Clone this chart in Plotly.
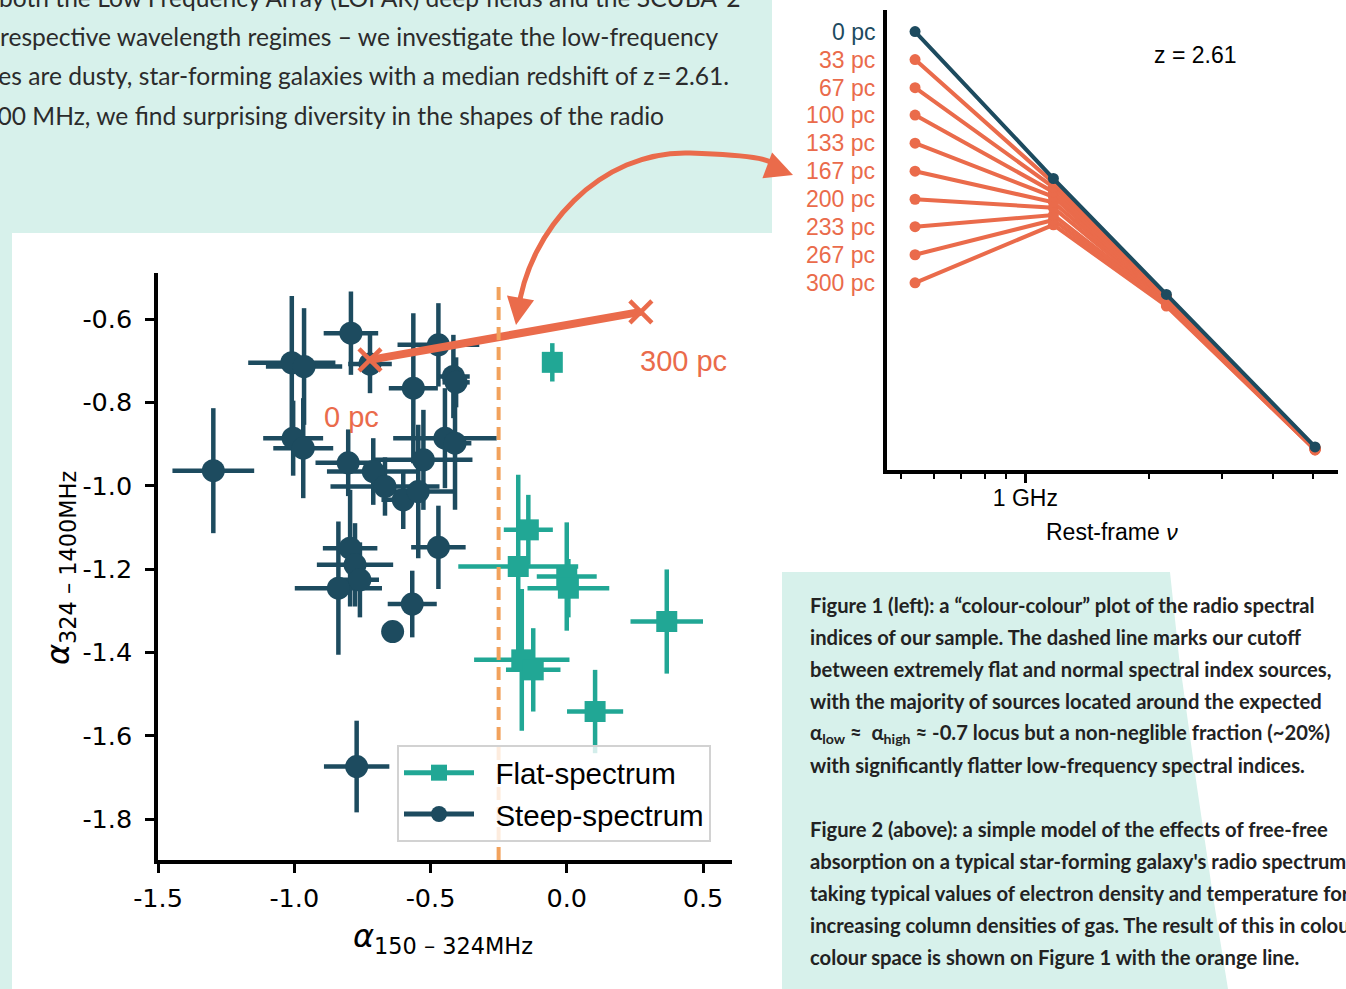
import plotly.graph_objects as go

W, H = 1346, 989

def px(x):
    return x / W

def py(y):
    return 1 - y / H

NAVY = "#1d4b5f"
TEAL = "#21a795"
ORANGE = "#ea6b4b"
DASH = "#f2a25c"
BG_TEAL = "#d7f1eb"
TEXT = "#2b2b2b"

# ---------------- Figure 1 data (colour-colour plot) ----------------
steep_x = [-1.297, -1.009, -0.964, -0.792, -0.722, -0.471, -0.563, -0.416, -0.406,
           -1.004, -0.967, -0.802, -0.710, -0.667, -0.600, -0.545, -0.526, -0.447,
           -0.410, -0.795, -0.777, -0.838, -0.759, -0.471, -0.567, -0.639, -0.771]
steep_y = [-0.964, -0.705, -0.714, -0.634, -0.708, -0.662, -0.766, -0.738, -0.752,
           -0.886, -0.910, -0.945, -0.966, -1.002, -1.034, -1.014, -0.938, -0.886,
           -0.898, -1.150, -1.190, -1.246, -1.226, -1.148, -1.284, -1.350, -1.674]
steep_xerr = [0.15, 0.16, 0.14, 0.10, 0.08, 0.15, 0.09, 0.06, 0.05,
              0.11, 0.11, 0.12, 0.17, 0.20, 0.08, 0.14, 0.18, 0.19,
              0.06, 0.10, 0.14, 0.16, 0.07, 0.10, 0.09, 0.0, 0.12]
steep_yerr = [0.15, 0.16, 0.14, 0.10, 0.07, 0.10, 0.18, 0.10, 0.06,
              0.09, 0.12, 0.08, 0.08, 0.07, 0.07, 0.16, 0.12, 0.12,
              0.16, 0.14, 0.10, 0.16, 0.09, 0.10, 0.08, 0.0, 0.11]

flat_x = [-0.053, -0.141, -0.178, 0.000, 0.006, -0.165, -0.123, 0.367, 0.104]
flat_y = [-0.704, -1.106, -1.194, -1.218, -1.246, -1.418, -1.442, -1.326, -1.542]
flat_xerr = [0.03, 0.09, 0.22, 0.11, 0.15, 0.175, 0.10, 0.133, 0.103]
flat_yerr = [0.046, 0.084, 0.22, 0.13, 0.07, 0.17, 0.10, 0.125, 0.10]

# free-free absorption track (0 pc -> 300 pc)
track_alpha_low = [-0.722, 0.272]
track_alpha_high = [-0.698, -0.583]
track_labels = ["0 pc", "300 pc"]
track_label_x = [-0.79, 0.43]
track_label_y = [-0.835, -0.700]

cutoff_alpha = -0.25

x1_ticks = [-1.5, -1.0, -0.5, 0.0, 0.5]
x1_ticktext = ["-1.5", "-1.0", "-0.5", "0.0", "0.5"]
y1_ticks = [-0.6, -0.8, -1.0, -1.2, -1.4, -1.6, -1.8]
y1_ticktext = ["-0.6", "-0.8", "-1.0", "-1.2", "-1.4", "-1.6", "-1.8"]

# ---------------- Figure 2 data (spectral model) ----------------
freq_ghz = [0.54, 1.17, 2.20, 5.05]
column_labels = ["0 pc", "33 pc", "67 pc", "100 pc", "133 pc", "167 pc",
                 "200 pc", "233 pc", "267 pc", "300 pc"]
logS_0pc = [0.000, -0.241, -0.431, -0.681]
logS_33pc = [-0.046, -0.248, -0.434, -0.682]
logS_67pc = [-0.092, -0.255, -0.435, -0.683]
logS_100pc = [-0.137, -0.263, -0.437, -0.683]
logS_133pc = [-0.183, -0.271, -0.439, -0.684]
logS_167pc = [-0.229, -0.280, -0.440, -0.684]
logS_200pc = [-0.275, -0.289, -0.443, -0.685]
logS_233pc = [-0.320, -0.301, -0.445, -0.685]
logS_267pc = [-0.366, -0.309, -0.448, -0.686]
logS_300pc = [-0.412, -0.317, -0.450, -0.686]
model_curves = [logS_0pc, logS_33pc, logS_67pc, logS_100pc, logS_133pc,
                logS_167pc, logS_200pc, logS_233pc, logS_267pc, logS_300pc]
minor_freq = [0.5, 0.6, 0.7, 0.8, 0.9, 2, 3, 4, 5]

# ---------------- text ----------------
intro_lines = [
    "both the Low Frequency Array (LOFAR) deep fields and the SCUBA-2",
    "respective wavelength regimes \u2013 we investigate the low-frequency",
    "sources are dusty, star-forming galaxies with a median redshift of z\u2009=\u20092.61.",
    "and 1400 MHz, we find surprising diversity in the shapes of the radio",
]
intro_right = [742, 720, 731, 666]
intro_y = [-3, 36, 76, 116]

caption_lines = [
    "Figure 1 (left): a \u201ccolour-colour\u201d plot of the radio spectral",
    "indices of our sample. The dashed line marks our cutoff",
    "between extremely flat and normal spectral index sources,",
    "with the majority of sources located around the expected",
    "\u03b1<sub>low</sub> \u2248  \u03b1<sub>high</sub> \u2248 -0.7 locus but a non-neglible fraction (~20%)",
    "with significantly flatter low-frequency spectral indices.",
    "Figure 2 (above): a simple model of the effects of free-free",
    "absorption on a typical star-forming galaxy's radio spectrum",
    "taking typical values of electron density and temperature for",
    "increasing column densities of gas. The result of this in colour-",
    "colour space is shown on Figure 1 with the orange line.",
]
caption_y = [605, 637, 669, 701, 733, 765, 829, 861, 893, 925, 957]

fig = go.Figure()

# Figure 1 traces
fig.add_trace(go.Scatter(
    x=flat_x, y=flat_y, mode="markers", showlegend=False,
    marker=dict(symbol="square", size=21, color=TEAL),
    error_x=dict(type="data", array=flat_xerr, color=TEAL, thickness=4.5, width=0),
    error_y=dict(type="data", array=flat_yerr, color=TEAL, thickness=4.5, width=0),
    xaxis="x", yaxis="y"))
fig.add_trace(go.Scatter(
    x=steep_x, y=steep_y, mode="markers", showlegend=False,
    marker=dict(symbol="circle", size=23, color=NAVY),
    error_x=dict(type="data", array=steep_xerr, color=NAVY, thickness=4.5, width=0),
    error_y=dict(type="data", array=steep_yerr, color=NAVY, thickness=4.5, width=0),
    xaxis="x", yaxis="y"))
fig.add_trace(go.Scatter(
    x=track_alpha_low, y=track_alpha_high, mode="lines+markers", showlegend=False,
    line=dict(color=ORANGE, width=8),
    marker=dict(symbol="x-thin", size=22, color=ORANGE, line=dict(color=ORANGE, width=4.5)),
    xaxis="x", yaxis="y"))
# legend entries
fig.add_trace(go.Scatter(
    x=[None], y=[None], mode="lines+markers", name="\u00a0\u00a0Flat-spectrum",
    line=dict(color=TEAL, width=5), marker=dict(symbol="square", size=18, color=TEAL),
    xaxis="x", yaxis="y"))
fig.add_trace(go.Scatter(
    x=[None], y=[None], mode="lines+markers", name="\u00a0\u00a0Steep-spectrum",
    line=dict(color=NAVY, width=5), marker=dict(symbol="circle", size=20, color=NAVY),
    xaxis="x", yaxis="y"))

# Figure 2 traces (orange curves first, 0 pc on top)
for lab, curve in list(zip(column_labels, model_curves))[1:][::-1]:
    fig.add_trace(go.Scatter(
        x=freq_ghz, y=curve, mode="lines+markers", showlegend=False,
        line=dict(color=ORANGE, width=4), marker=dict(size=11, color=ORANGE),
        xaxis="x2", yaxis="y2"))
fig.add_trace(go.Scatter(
    x=freq_ghz, y=logS_0pc, mode="lines+markers", showlegend=False,
    line=dict(color=NAVY, width=4), marker=dict(size=11, color=NAVY),
    xaxis="x2", yaxis="y2"))

shapes = []
# teal poster background regions
shapes.append(dict(type="rect", xref="paper", yref="paper", x0=px(0), x1=px(772),
                   y0=py(233), y1=py(0), fillcolor=BG_TEAL, line=dict(width=0), layer="below"))
shapes.append(dict(type="rect", xref="paper", yref="paper", x0=px(0), x1=px(12),
                   y0=py(989), y1=py(233), fillcolor=BG_TEAL, line=dict(width=0), layer="below"))
poly = [(782, 572), (1170, 572), (1179, 657), (1197, 787), (1213, 896), (1228, 989), (782, 989)]
path = "M " + " L ".join(f"{px(a):.5f},{py(b):.5f}" for a, b in poly) + " Z"
shapes.append(dict(type="path", xref="paper", yref="paper", path=path,
                   fillcolor=BG_TEAL, line=dict(width=0), layer="below"))
# dashed cutoff line
shapes.append(dict(type="line", xref="x", yref="y domain", x0=cutoff_alpha, x1=cutoff_alpha,
                   y0=0, y1=0.98, line=dict(color=DASH, width=4, dash="13px,7px"), layer="above"))
# curved arrow linking the figures
arrow_path = (f"M {px(518):.5f},{py(312):.5f} "
              f"C {px(528):.5f},{py(230):.5f} {px(600):.5f},{py(150):.5f} {px(690):.5f},{py(153):.5f} "
              f"S {px(770):.5f},{py(163):.5f} {px(784):.5f},{py(170):.5f}")
shapes.append(dict(type="path", xref="paper", yref="paper", path=arrow_path,
                   line=dict(color=ORANGE, width=5), layer="above"))

annotations = []
for t, xr, yy in zip(intro_lines, intro_right, intro_y):
    annotations.append(dict(text=t, xref="paper", yref="paper", x=px(xr), y=py(yy),
                            xanchor="right", yanchor="middle", showarrow=False,
                            font=dict(family="Lato, sans-serif", size=24.6, color=TEXT)))
for t, yy in zip(caption_lines, caption_y):
    annotations.append(dict(text=t, xref="paper", yref="paper", x=px(808), y=py(yy),
                            xanchor="left", yanchor="middle", showarrow=False,
                            font=dict(family="Lato, sans-serif", size=20.2, color="#222222", weight=700)))
# arrow heads
annotations.append(dict(x=px(516), y=py(325), xref="paper", yref="paper", ax=3, ay=-18,
                        showarrow=True, arrowhead=2, arrowsize=1.1, arrowwidth=5,
                        arrowcolor=ORANGE, text="", standoff=0))
annotations.append(dict(x=px(793), y=py(175), xref="paper", yref="paper", ax=-16, ay=-6,
                        showarrow=True, arrowhead=2, arrowsize=1.1, arrowwidth=5,
                        arrowcolor=ORANGE, text="", standoff=0))
# track labels
for lab, lx, ly in zip(track_labels, track_label_x, track_label_y):
    annotations.append(dict(text=lab, x=lx, y=ly, xref="x", yref="y",
                            xanchor="center", yanchor="middle", showarrow=False,
                            font=dict(family="Liberation Sans", size=29, color=ORANGE)))
# axis titles figure 1
annotations.append(dict(text="<i>\u03b1</i><sub>324 \u2013 1400MHz</sub>", xref="paper", yref="paper",
                        x=px(60), y=py(568), textangle=-90, showarrow=False,
                        xanchor="center", yanchor="middle",
                        font=dict(family="DejaVu Sans", size=32, color="black")))
annotations.append(dict(text="<i>\u03b1</i><sub>150 \u2013 324MHz</sub>", xref="paper", yref="paper",
                        x=px(443), y=py(938), showarrow=False,
                        xanchor="center", yanchor="middle",
                        font=dict(family="DejaVu Sans", size=32, color="black")))
# figure 2 labels
for lab, curve in zip(column_labels, model_curves):
    annotations.append(dict(text=lab, xref="paper", yref="y2", x=px(877), y=curve[0],
                            xanchor="right", yanchor="middle", showarrow=False,
                            font=dict(family="Liberation Sans", size=23,
                                      color=NAVY if lab == "0 pc" else ORANGE)))
annotations.append(dict(text="z = 2.61", xref="paper", yref="paper", x=px(1195), y=py(55),
                        xanchor="center", yanchor="middle",
                        showarrow=False, font=dict(family="Liberation Sans", size=23, color="black")))
annotations.append(dict(text="Rest-frame <i>\u03bd</i>", xref="paper", yref="paper", x=px(1112), y=py(532),
                        xanchor="center", yanchor="middle",
                        showarrow=False, font=dict(family="Liberation Sans", size=23, color="black")))

axis_common = dict(showgrid=False, zeroline=False, showline=True, linecolor="black",
                   linewidth=3.5, ticks="outside", tickcolor="black", automargin=False)

fig.update_layout(
    width=W, height=H, autosize=False,
    margin=dict(l=0, r=0, t=0, b=0, pad=0),
    paper_bgcolor="white", plot_bgcolor="rgba(0,0,0,0)",
    xaxis=dict(domain=[px(158), px(732)], range=[-1.5, -1.5 + 574 / 272.5], anchor="y",
               tickvals=x1_ticks, ticktext=x1_ticktext, ticklen=9, tickwidth=3,
               tickfont=dict(family="DejaVu Sans", size=25.5, color="black"),
               ticklabelstandoff=4, **axis_common),
    yaxis=dict(domain=[py(860), py(273)], range=[-0.6 - 541 / 416.7, -0.6 + 46 / 416.7], anchor="x",
               tickvals=y1_ticks, ticktext=y1_ticktext, ticklen=9, tickwidth=3,
               tickfont=dict(family="DejaVu Sans", size=25.5, color="black"),
               ticklabelstandoff=8, **axis_common),
    xaxis2=dict(domain=[px(887), px(1338)], type="log", range=[-0.3357, 0.759], anchor="y2",
                tickvals=[1], ticktext=["1 GHz"], ticklen=9, tickwidth=3,
                tickfont=dict(family="Liberation Sans", size=23, color="black"),
                ticklabelstandoff=-4,
                minor=dict(tickvals=minor_freq, ticklen=5, tickwidth=1.5, tickcolor="black",
                           ticks="outside", showgrid=False),
                **axis_common),
    yaxis2=dict(domain=[py(470), py(9.5)], range=[-0.7189, 0.0361], anchor="x2",
                showgrid=False, zeroline=False, showline=True, linecolor="black",
                linewidth=3.5, ticks="", showticklabels=False, automargin=False),
    legend=dict(x=px(397), y=py(745), xanchor="left", yanchor="top",
                bgcolor="rgba(255,255,255,0.8)", bordercolor="#d2d2d2", borderwidth=2,
                font=dict(family="Liberation Sans", size=29.5, color="black"),
                itemsizing="trace", tracegroupgap=0, itemwidth=70),
    shapes=shapes, annotations=annotations,
)

fig.write_html("out.html", config={"displayModeBar": False},
               post_script="document.body.style.margin='0';document.body.style.overflow='hidden';")
